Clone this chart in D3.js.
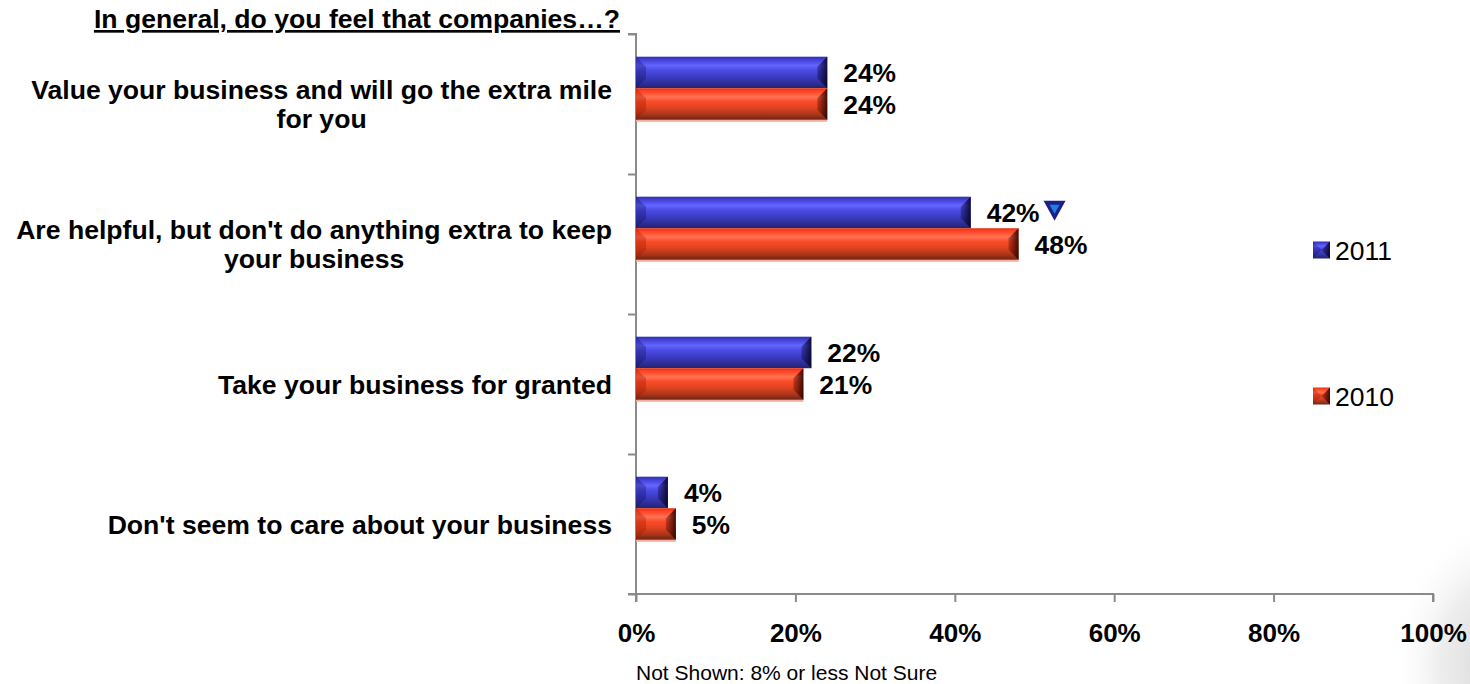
<!DOCTYPE html>
<html>
<head>
<meta charset="utf-8">
<script src="https://cdn.jsdelivr.net/npm/d3@7"></script>
<style>
  html, body { margin: 0; padding: 0; background: #ffffff; }
  svg { display: block; }
  text { font-family: "Liberation Sans", Arial, Helvetica, sans-serif; fill: #000; }
</style>
</head>
<body>
<svg id="chart" width="1470" height="684"></svg>
<script>
// ---- data ----
const title = "In general, do you feel that companies…?";
const categories = [
  "Value your business and will go the extra mile for you",
  "Are helpful, but don't do anything extra to keep your business",
  "Take your business for granted",
  "Don't seem to care about your business"
];
const seriesNames = ["2011", "2010"];
const values2011 = [24, 42, 22, 4];
const values2010 = [24, 48, 21, 5];
// significance flags for 2011 vs 2010 (down = significantly lower)
const sig2011 = [null, "down", null, null];
const xTickValues = [0, 20, 40, 60, 80, 100];
const footnote = "Not Shown: 8% or less Not Sure";
// the survey had a third answer group ("Not Sure") that keeps its slot in each band but is not drawn
const slotKeys = ["2011", "2010", "Not Sure"];

const svg = d3.select("#chart");
const W = 1470, H = 684;
const plot = { left: 636, right: 1433, top: 34, bottom: 594 };
const labelSize = 26.6;

// ---- palette ----
const palette = {
  "2011": {
    stops: [[0, "#2e2ea6"], [0.08, "#3e3ed2"], [0.28, "#6464ff"], [0.42, "#4c4ce6"],
            [0.62, "#3d3dc6"], [0.84, "#2e2e98"], [1, "#22226e"]],
    left: "rgba(10,10,80,0.3)", rightA: "rgba(10,10,60,0.35)", rightB: "rgba(5,5,40,0.9)",
    under: null
  },
  "2010": {
    stops: [[0, "#e23010"], [0.08, "#ff4020"], [0.28, "#ff7254"], [0.42, "#fa4c2a"],
            [0.62, "#e0431f"], [0.84, "#a8341a"], [1, "#6e2412"]],
    left: "rgba(160,20,0,0.32)", rightA: "rgba(90,10,0,0.35)", rightB: "rgba(40,4,0,0.9)",
    under: "#f3ad9c"
  }
};

const defs = svg.append("defs");
seriesNames.forEach(s => {
  const p = palette[s];
  const g = defs.append("linearGradient").attr("id", "face-" + s)
    .attr("x1", 0).attr("y1", 0).attr("x2", 0).attr("y2", 1);
  p.stops.forEach(([o, c]) => g.append("stop").attr("offset", o).attr("stop-color", c));
  const r = defs.append("linearGradient").attr("id", "right-" + s)
    .attr("x1", 0).attr("y1", 0).attr("x2", 1).attr("y2", 0);
  r.append("stop").attr("offset", 0).attr("stop-color", p.rightA);
  r.append("stop").attr("offset", 1).attr("stop-color", p.rightB);
});
// soft grey shading at the lower right corner of the slide
const haze = defs.append("radialGradient").attr("id", "haze")
  .attr("cx", 0.5).attr("cy", 0.5).attr("r", 0.5);
haze.append("stop").attr("offset", 0).attr("stop-color", "#d4d4d4").attr("stop-opacity", 1);
haze.append("stop").attr("offset", 0.55).attr("stop-color", "#e6e6e6").attr("stop-opacity", 0.7);
haze.append("stop").attr("offset", 1).attr("stop-color", "#ffffff").attr("stop-opacity", 0);

svg.append("ellipse").attr("cx", W + 30).attr("cy", H - 20)
  .attr("rx", 110).attr("ry", 150).attr("fill", "url(#haze)");

// ---- scales ----
const x = d3.scaleLinear().domain([0, 100]).range([plot.left, plot.right]);
const y = d3.scaleBand().domain(categories).range([plot.top, plot.bottom]).padding(0);
const ySlot = d3.scaleBand().domain(slotKeys).range([0, y.bandwidth()])
  .paddingInner(0).paddingOuter(0.72);
const yEdge = d3.scaleLinear().domain([0, categories.length]).range([plot.top, plot.bottom]);

// ---- bevelled bar ----
function bevelBar(g, series, x0, y0, w, h, bevel) {
  const p = palette[series];
  const b = Math.min(bevel, w / 2, h / 2);
  const x1 = x0 + w, y1 = y0 + h;
  g.append("rect").attr("x", x0).attr("y", y0).attr("width", w).attr("height", h)
    .attr("fill", `url(#face-${series})`);
  g.append("path")
    .attr("d", `M${x0},${y0}L${x0 + b},${y0 + b}L${x0 + b},${y1 - b}L${x0},${y1}Z`)
    .attr("fill", p.left);
  g.append("path")
    .attr("d", `M${x1},${y0}L${x1 - b},${y0 + b}L${x1 - b},${y1 - b}L${x1},${y1}Z`)
    .attr("fill", `url(#right-${series})`);
}

// ---- axes ----
const axisColor = "#8a8a8a";
const gx = svg.append("g").attr("transform", `translate(0,${plot.bottom})`)
  .call(d3.axisBottom(x).tickValues(xTickValues).tickSize(8).tickPadding(22)
    .tickFormat(d => d + "%"));
gx.select(".domain").attr("stroke", axisColor).attr("stroke-width", 2)
  .attr("d", `M${plot.left},8V0H${plot.right}V8`);
gx.selectAll(".tick line").attr("stroke", axisColor).attr("stroke-width", 2);
gx.selectAll(".tick text").attr("font-size", 26).attr("font-weight", "bold")
  .attr("font-family", '"Liberation Sans", Arial, sans-serif').attr("fill", "#000");

const gy = svg.append("g").attr("transform", `translate(${plot.left},0)`)
  .call(d3.axisLeft(yEdge).ticks(categories.length).tickSize(8).tickFormat(""));
gy.select(".domain").attr("stroke", axisColor).attr("stroke-width", 2)
  .attr("d", `M-8,${plot.top}H0V${plot.bottom}H-8`);
gy.selectAll(".tick line").attr("stroke", axisColor).attr("stroke-width", 2);

// ---- bars ----
const seriesValues = { "2011": values2011, "2010": values2010 };
const barsG = svg.append("g");
const labelsG = svg.append("g");
categories.forEach((cat, i) => {
  seriesNames.forEach(s => {
    const v = seriesValues[s][i];
    const by = y(cat) + ySlot(s);
    const bh = ySlot.bandwidth();
    const bw = x(v) - x(0);
    const g = barsG.append("g");
    if (palette[s].under) {
      g.append("rect").attr("x", x(0)).attr("y", by + bh).attr("width", bw).attr("height", 2)
        .attr("fill", palette[s].under);
    }
    bevelBar(g, s, x(0), by, bw, bh, 10);
    const t = labelsG.append("text")
      .attr("x", x(v) + 16).attr("y", by + bh / 2 + 9.5)
      .attr("font-size", 26.4).attr("font-weight", "bold")
      .text(v + "%");
    if (s === "2011" && sig2011[i] === "down") {
      const tx = x(v) + 16 + t.node().getComputedTextLength() + 4;
      const ty = by + 4;
      labelsG.append("path")
        .attr("d", `M${tx},${ty}L${tx + 22},${ty}L${tx + 11},${ty + 20}Z`)
        .attr("fill", "#1e1e8a");
      labelsG.append("path")
        .attr("d", `M${tx + 6},${ty + 4}L${tx + 16},${ty + 4}L${tx + 11},${ty + 13}Z`)
        .attr("fill", "#1f7fe0");
    }
  });
});

// ---- category labels (wrapped, centred lines, right-aligned block) ----
const labelRight = 612, maxLine = 605, lineH = 29;
const catG = svg.append("g");
categories.forEach(cat => {
  const t = catG.append("text").attr("font-size", labelSize).attr("font-weight", "bold")
    .attr("text-anchor", "middle");
  const words = cat.split(" ");
  const lines = [];
  let cur = [];
  const probe = catG.append("text").attr("font-size", labelSize).attr("font-weight", "bold");
  words.forEach(w => {
    const trial = cur.concat([w]).join(" ");
    probe.text(trial);
    if (probe.node().getComputedTextLength() > maxLine && cur.length) {
      lines.push(cur.join(" "));
      cur = [w];
    } else {
      cur.push(w);
    }
  });
  lines.push(cur.join(" "));
  let widest = 0;
  lines.forEach(l => { probe.text(l); widest = Math.max(widest, probe.node().getComputedTextLength()); });
  probe.remove();
  const cx = labelRight - widest / 2;
  const cy = y(cat) + y.bandwidth() / 2;
  lines.forEach((l, k) => {
    t.append("tspan").attr("x", cx)
      .attr("y", cy + (k - (lines.length - 1) / 2) * lineH + 9.5)
      .text(l);
  });
});

// ---- title ----
svg.append("text").attr("x", 620).attr("y", 28)
  .attr("text-anchor", "end").attr("font-size", labelSize).attr("font-weight", "bold")
  .attr("text-decoration", "underline")
  .text(title);

// ---- legend ----
const legendY = d3.scalePoint().domain(seriesNames).range([250, 396]);
seriesNames.forEach(s => {
  const g = svg.append("g");
  bevelBar(g, s, 1313, legendY(s) - 8.5, 17, 17, 9);
  svg.append("text").attr("x", 1335).attr("y", legendY(s) + 9.5)
    .attr("font-size", 26.5).text(s);
});

// ---- footnote ----
svg.append("text").attr("x", plot.left).attr("y", 680)
  .attr("font-size", 21).text(footnote);
</script>
</body>
</html>
